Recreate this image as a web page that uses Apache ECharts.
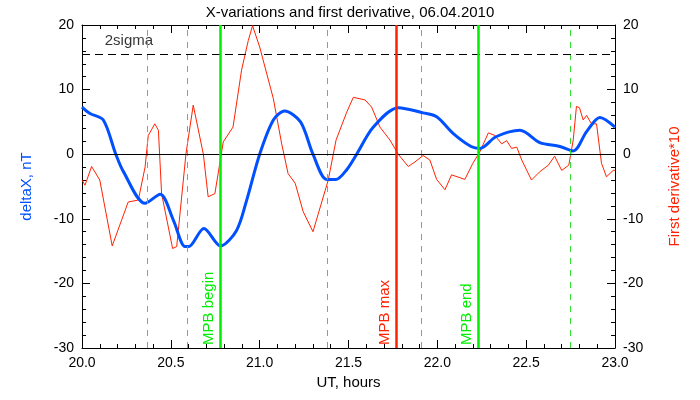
<!DOCTYPE html><html><head><meta charset="utf-8"><script src="https://cdn.jsdelivr.net/npm/echarts@6/dist/echarts.min.js"></script></head><body style="margin:0"><div id="c" style="width:700px;height:400px"></div><script>
const blueT=[20.0,20.045,20.12,20.19,20.233,20.355,20.44,20.514,20.58,20.6,20.686,20.78,20.87,20.927,21.0,21.077,21.14,21.23,21.3,21.377,21.43,21.49,21.546,21.64,21.78,21.92,21.996,22.09,22.19,22.24,22.33,22.465,22.577,22.69,22.765,22.84,22.915,23.0];
const blueV=[7.3,6.3,5.3,0,-2.7,-7.6,-6.2,-10.2,-14.3,-14.3,-11.5,-14.2,-11.8,-7.1,0,5.3,6.7,5,0,-3.9,-3.9,-2.4,0,4.2,7.2,6.4,5.8,3.2,1.2,0.9,2.7,3.7,1.8,1.2,0.5,3.5,5.7,4.2];
const redT=[20.0,20.017,20.054,20.1,20.17,20.223,20.26,20.317,20.355,20.373,20.41,20.43,20.448,20.51,20.533,20.585,20.626,20.683,20.71,20.748,20.795,20.85,20.898,20.936,20.96,21.0,21.077,21.124,21.16,21.2,21.245,21.3,21.386,21.43,21.49,21.527,21.593,21.63,21.677,21.733,21.78,21.836,21.874,21.92,21.958,21.996,22.043,22.08,22.155,22.2,22.24,22.287,22.324,22.362,22.39,22.418,22.447,22.475,22.53,22.577,22.625,22.66,22.7,22.74,22.765,22.783,22.8,22.821,22.84,22.868,22.896,22.924,22.952,22.99,23.0];
const redV=[-4,-4.8,-1.9,-4,-14.2,-10.2,-7.4,-7.1,-2,2.9,4.7,3.7,-6.1,-14.6,-14.3,0,7.6,0,-6.6,-6.1,1.9,4.2,13,17.6,19.9,16.6,8.6,1.6,-3,-4.5,-8.9,-12,-4,2.2,6.5,8.8,8.4,7.3,4.2,2.2,0,-1.9,-1.2,-0.2,-0.9,-3.9,-5.5,-3.2,-3.9,-1.4,0.4,3.3,2.9,1.6,2.1,0.9,1.1,-0.9,-4,-2.7,-1.7,-0.3,-2.5,-1.7,2.2,7.4,7.2,5.3,6,4.7,4.7,-1.4,-3.5,-2.5,-2.5];
const dashedX=[20.37,20.585,21.38,21.915,22.745];
const marks=[{x:20.78,name:'MPB begin',c:'#00ee00'},{x:21.77,name:'MPB max',c:'#ff2200'},{x:22.23,name:'MPB end',c:'#00ee00'}];
const sigma=15.5;
const f='Liberation Sans';
const tick={inside:true,length:8,lineStyle:{color:'#000'}};
const minor={show:true,splitNumber:5,length:4,lineStyle:{color:'#000'}};
const line={show:true,onZero:false,lineStyle:{color:'#000'}};
const ch=echarts.init(document.getElementById('c'));
ch.setOption({animation:false,backgroundColor:'#fff',
title:{text:'X-variations and first derivative, 06.04.2010',left:'center',top:0,textStyle:{fontFamily:f,fontSize:15,fontWeight:'normal',color:'#000'}},
grid:{left:82,right:85,top:25,bottom:52},
xAxis:[{type:'value',min:20,max:23,interval:0.5,axisLine:line,axisTick:tick,minorTick:minor,splitLine:{show:false},axisLabel:{formatter:v=>v.toFixed(1),color:'#000',fontFamily:f,fontSize:14,margin:8},name:'UT, hours',nameLocation:'middle',nameGap:26,nameTextStyle:{color:'#000',fontFamily:f,fontSize:15}},
{type:'value',position:'top',min:20,max:23,interval:0.5,axisLine:line,axisTick:tick,minorTick:minor,axisLabel:{show:false},splitLine:{show:false}}],
yAxis:[{type:'value',min:-30,max:20,interval:10,axisLine:line,axisTick:tick,minorTick:minor,splitLine:{show:false},axisLabel:{color:'#000',fontFamily:f,fontSize:14},name:'deltaX, nT',nameLocation:'middle',nameGap:48,nameTextStyle:{color:'#0050ff',fontFamily:f,fontSize:15}},
{type:'value',position:'right',min:-30,max:20,interval:10,axisLine:line,axisTick:tick,minorTick:minor,splitLine:{show:false},axisLabel:{color:'#000',fontFamily:f,fontSize:14},name:'First derivative*10',nameLocation:'middle',nameGap:52,nameRotate:90,nameTextStyle:{color:'#ff2200',fontFamily:f,fontSize:15}}],
series:[
{type:'line',data:redT.map((t,i)=>[t,redV[i]]),symbol:'none',lineStyle:{color:'#ff2200',width:1},z:3,
 markLine:{silent:true,symbol:'none',animation:false,data:[
  ...dashedX.map(x=>({xAxis:x,lineStyle:{color:'#33dd33',type:[6,6],width:1},label:{show:false}})),
  {yAxis:0,lineStyle:{color:'#000',type:'solid',width:1},label:{show:false}},
  {yAxis:sigma,lineStyle:{color:'#000',type:[8,5],width:1},label:{show:false}},
  ...marks.map(m=>({xAxis:m.x,lineStyle:{color:m.c,type:'solid',width:2.5},label:{show:true,formatter:m.name,position:'insideStartTop',distance:[3,4],color:m.c,fontFamily:f,fontSize:15}}))]}},
{type:'line',data:blueT.map((t,i)=>[t,blueV[i]]),symbol:'none',smooth:0.3,lineStyle:{color:'#0050ff',width:3},z:4},
{type:'scatter',data:[[20.1,17.5]],symbolSize:0,label:{show:true,formatter:'2sigma',position:'right',color:'#000',fontFamily:f,fontSize:15},silent:true}
]});
</script></body></html>
